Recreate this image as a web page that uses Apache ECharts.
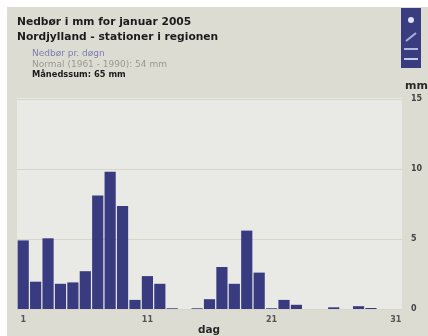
<!DOCTYPE html>
<html>
<head>
<meta charset="utf-8">
<style>html,body{margin:0;padding:0;background:#fff}#c{width:428px;height:336px}</style>
<script src="https://cdn.jsdelivr.net/npm/echarts@6/dist/echarts.min.js"></script>
</head>
<body>
<div id="c"></div>
<script>
// Daily precipitation, January 2005
const days = ['1','2','3','4','5','6','7','8','9','10','11','12','13','14','15','16','17','18','19','20','21','22','23','24','25','26','27','28','29','30','31'];
const rain = [4.9,1.95,5.05,1.8,1.9,2.7,8.1,9.8,7.35,0.65,2.35,1.8,0.05,0,0.05,0.7,3.0,1.8,5.6,2.6,0.05,0.65,0.3,0,0,0.12,0,0.2,0.07,0,0];
const shownDays = ['1','11','21','31'];
const yTicks = [0,5,10,15];
const font = '"DejaVu Sans"';

const chart = echarts.init(document.getElementById('c'), null, {renderer:'canvas'});
chart.setOption({
  animation:false,
  backgroundColor:'#ffffff',
  graphic:[
    {type:'rect',z:-10,shape:{x:7,y:7,width:421,height:329},style:{fill:'#dcdcd3'}},
    {type:'rect',z:-9,shape:{x:17,y:98,width:385,height:212},style:{fill:'#e9eae5'}},
    // toolbar panel with its small icons
    {type:'rect',z:5,shape:{x:401,y:8,width:20,height:60},style:{fill:'#3a3c80'}},
    {type:'circle',z:6,shape:{cx:411,cy:20,r:3},style:{fill:'#dfe2f2'}},
    {type:'line',z:6,shape:{x1:406,y1:41,x2:416,y2:33},style:{stroke:'#aab0d8',lineWidth:2}},
    {type:'rect',z:6,shape:{x:404,y:48,width:14,height:2},style:{fill:'#b4b8dc'}},
    {type:'rect',z:6,shape:{x:404,y:58,width:14,height:2},style:{fill:'#c8cbe6'}},
    {type:'text',z:6,style:{x:17,y:17,text:'Nedbør i mm for januar 2005',font:'bold 10.7px '+font,fill:'#1c1c1c'}},
    {type:'text',z:6,style:{x:17,y:32,text:'Nordjylland - stationer i regionen',font:'bold 10.7px '+font,fill:'#1c1c1c'}},
    {type:'text',z:6,style:{x:32,y:49,text:'Nedbør pr. døgn',font:'9px '+font,fill:'#7c7eb0'}},
    {type:'text',z:6,style:{x:32,y:60,text:'Normal (1961 - 1990): 54 mm',font:'9px '+font,fill:'#9a9a94'}},
    {type:'text',z:6,style:{x:32,y:71,text:'Månedssum: 65 mm',font:'bold 8.3px '+font,fill:'#1c1c1c'}},
    {type:'text',z:6,style:{x:405,y:81,text:'mm',font:'bold 11px '+font,fill:'#2a2a2a'}},
    {type:'text',z:6,style:{x:198,y:325,text:'dag',font:'bold 10.5px '+font,fill:'#2a2a2a'}}
  ],
  grid:{left:17,right:26,top:99,bottom:27,containLabel:false},
  xAxis:{
    type:'category',data:days,boundaryGap:true,
    axisLine:{show:false},axisTick:{show:false},
    axisLabel:{
      interval:0,margin:7,fontFamily:font,fontSize:8,fontWeight:'bold',color:'#555',
      formatter:v=>shownDays.includes(v)?v:''
    },
    splitLine:{show:false}
  },
  yAxis:{
    type:'value',position:'right',min:0,max:15,interval:5,
    axisLine:{show:false},axisTick:{show:false},
    axisLabel:{margin:9,fontFamily:font,fontSize:8,fontWeight:'bold',color:'#444',
      formatter:v=>yTicks.includes(v)?String(v):''},
    splitLine:{show:true,lineStyle:{color:'#d5d5c8',width:1}}
  },
  series:[{
    type:'bar',data:rain,barWidth:'90%',silent:true,
    itemStyle:{color:'#383b80'}
  }]
});
</script>
</body>
</html>
